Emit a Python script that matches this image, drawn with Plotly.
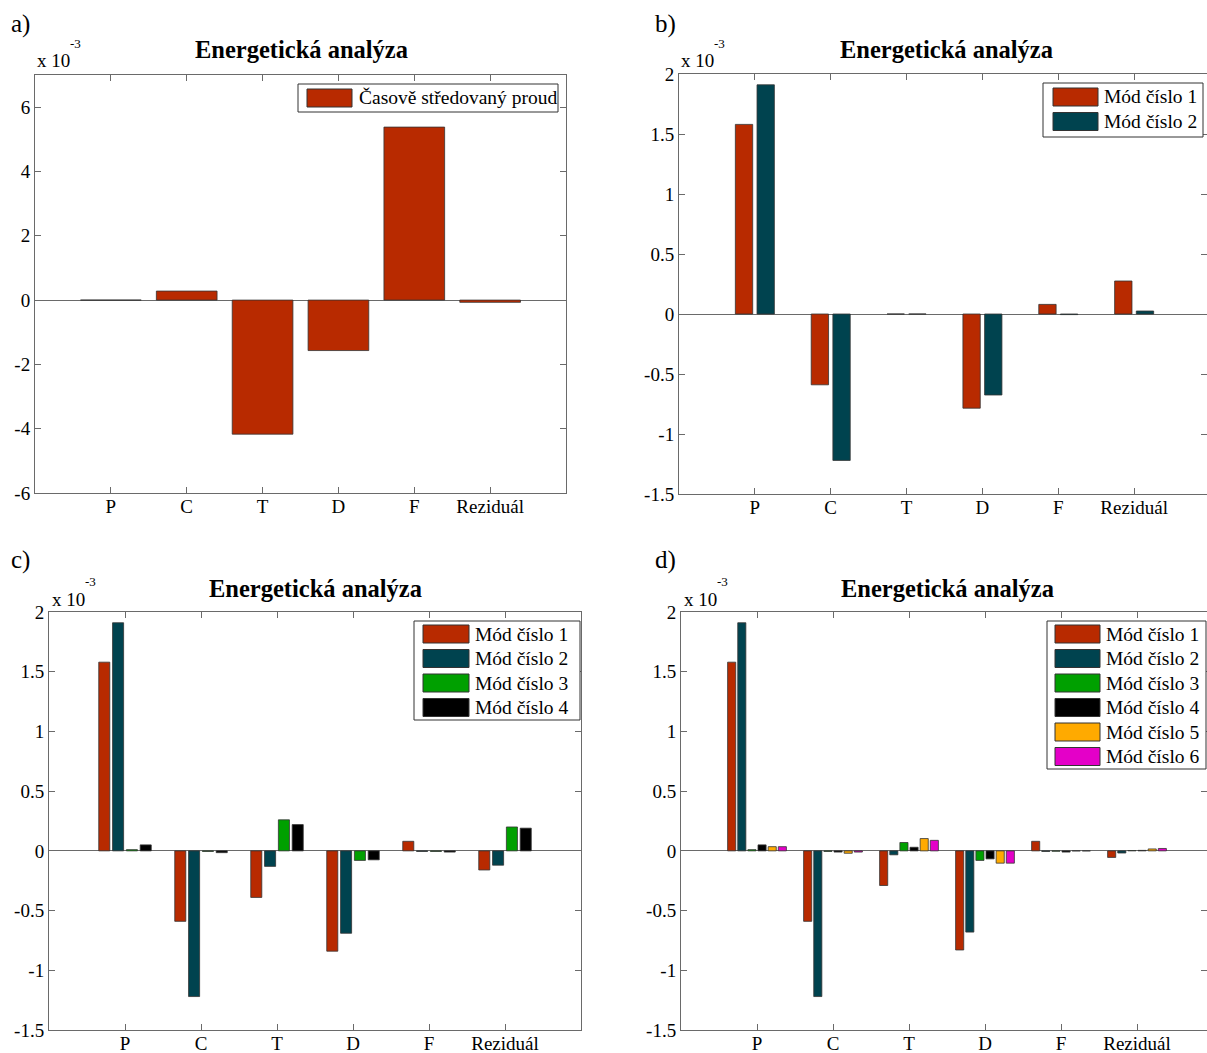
import plotly.graph_objects as go

W, H = 1207, 1053

# ---------------- data (values in units of 10^-3) ----------------
categories = ["P", "C", "T", "D", "F", "Reziduál"]

ytick_vals_a = [-6, -4, -2, 0, 2, 4, 6]
ytick_text_a = ["-6", "-4", "-2", "0", "2", "4", "6"]
ytick_vals_bcd = [-1.5, -1, -0.5, 0, 0.5, 1, 1.5, 2]
ytick_text_bcd = ["-1.5", "-1", "-0.5", "0", "0.5", "1", "1.5", "2"]

# a) time-averaged flow
mean_flow = [0.0, 0.28, -4.17, -1.57, 5.38, -0.07]

# b) two modes
b_mode1 = [1.58, -0.59, 0.0, -0.785, 0.08, 0.275]
b_mode2 = [1.91, -1.22, 0.0, -0.675, -0.005, 0.025]

# c) four modes
c_mode1 = [1.58, -0.59, -0.39, -0.84, 0.08, -0.16]
c_mode2 = [1.91, -1.22, -0.13, -0.69, -0.005, -0.12]
c_mode3 = [0.01, -0.005, 0.26, -0.08, -0.005, 0.20]
c_mode4 = [0.05, -0.015, 0.22, -0.075, -0.01, 0.19]

# d) six modes
d_mode1 = [1.58, -0.59, -0.29, -0.83, 0.08, -0.055]
d_mode2 = [1.91, -1.22, -0.033, -0.68, -0.005, -0.018]
d_mode3 = [0.01, -0.005, 0.07, -0.08, -0.003, 0.003]
d_mode4 = [0.05, -0.01, 0.03, -0.067, -0.01, 0.004]
d_mode5 = [0.035, -0.02, 0.103, -0.103, 0.0, 0.016]
d_mode6 = [0.035, -0.01, 0.088, -0.103, 0.0, 0.02]

name_mean = "Časově středovaný proud"
mode_names = ["Mód číslo 1", "Mód číslo 2", "Mód číslo 3",
              "Mód číslo 4", "Mód číslo 5", "Mód číslo 6"]
title_text = "Energetická analýza"

# ---------------- styles ----------------
colors = ["#B82A00", "#00434F", "#00A000", "#000000", "#FFAA00", "#E400C8"]
SERIF = "Liberation Serif, Times New Roman, serif"
AXC = "#6a6a6a"


def fx(x):
    return x / W


def fy(y):
    return 1 - y / H


panels = [
    dict(label="a)", series=[mean_flow], names=[name_mean],
         box=(35, 75, 566, 493), full_right=566, yr=[-6, 7],
         yt=(ytick_vals_a, ytick_text_a), title_x=301, title_y=50,
         label_xy=(9, 24), exp_xy=(35, 61),
         leg_box=(298, 84, 558, 112), sw_x=(307, 352), txt_x=357, rows0=98),
    dict(label="b)", series=[b_mode1, b_mode2], names=mode_names[:2],
         box=(679, 74, 1207, 494), full_right=1210, yr=[-1.5, 2],
         yt=(ytick_vals_bcd, ytick_text_bcd), title_x=946, title_y=50,
         label_xy=(653, 24), exp_xy=(679, 61),
         leg_box=(1043, 83, 1203, 137), sw_x=(1053, 1098), txt_x=1102, rows0=97),
    dict(label="c)", series=[c_mode1, c_mode2, c_mode3, c_mode4], names=mode_names[:4],
         box=(49, 612, 581, 1030), full_right=581, yr=[-1.5, 2],
         yt=(ytick_vals_bcd, ytick_text_bcd), title_x=316, title_y=588,
         label_xy=(9, 560), exp_xy=(50, 599),
         leg_box=(414, 621, 580, 720), sw_x=(423, 469), txt_x=473, rows0=634),
    dict(label="d)", series=[d_mode1, d_mode2, d_mode3, d_mode4, d_mode5, d_mode6],
         names=mode_names[:6],
         box=(681, 612, 1207, 1030), full_right=1213, yr=[-1.5, 2],
         yt=(ytick_vals_bcd, ytick_text_bcd), title_x=947, title_y=588,
         label_xy=(653, 560), exp_xy=(682, 599),
         leg_box=(1047, 621, 1206, 769), sw_x=(1055, 1100), txt_x=1104, rows0=634),
]

fig = go.Figure()
layout = dict(
    width=W, height=H, margin=dict(l=0, r=0, t=0, b=0, autoexpand=False),
    paper_bgcolor="white", plot_bgcolor="white",
    barmode="overlay", showlegend=False,
    font=dict(family=SERIF, size=19, color="black"),
)
annotations = []
shapes = []
xpos = list(range(1, len(categories) + 1))
ROW_DY = 24.5

for i, p in enumerate(panels):
    suf = "" if i == 0 else str(i + 1)
    xa, ya = "x" + suf, "y" + suf
    n = len(p["series"])
    if n == 1:
        gw = 0.8
        slot = 0.8
        bw = 0.8
    else:
        gw = min(0.8, n / (n + 1.5))
        slot = gw / n
        bw = slot * 0.8
    for k, (vals, nm) in enumerate(zip(p["series"], p["names"])):
        center = -gw / 2 + slot * (k + 0.5)
        fig.add_trace(go.Bar(
            x=xpos, y=vals, name=nm, xaxis=xa, yaxis=ya,
            width=bw, offset=center - bw / 2,
            marker=dict(color=colors[k], line=dict(color="#333333", width=0.8)),
        ))
    l, t, r, b = p["box"]
    xr_right = 7 * (r - l) / (p["full_right"] - l)
    layout["xaxis" + suf] = dict(
        domain=[fx(l), fx(r)], anchor=ya, range=[0, xr_right],
        tickvals=xpos, ticktext=categories, showgrid=False, zeroline=False,
        showline=True, linecolor=AXC, linewidth=1, mirror="ticks",
        ticks="inside", ticklen=6, tickcolor=AXC, automargin=False,
        ticklabelstandoff=-4,
        tickfont=dict(family=SERIF, size=19, color="black"),
    )
    layout["yaxis" + suf] = dict(
        domain=[fy(b), fy(t)], anchor=xa, range=p["yr"],
        tickvals=p["yt"][0], ticktext=p["yt"][1], showgrid=False,
        zeroline=True, zerolinecolor=AXC, zerolinewidth=1,
        showline=True, linecolor=AXC, linewidth=1, mirror="ticks",
        ticks="inside", ticklen=6, tickcolor=AXC, automargin=False,
        tickfont=dict(family=SERIF, size=19, color="black"),
    )
    # title
    annotations.append(dict(
        text="<b>" + title_text + "</b>", xref="paper", yref="paper",
        x=fx(p["title_x"]), y=fy(p["title_y"]), xanchor="center", yanchor="middle",
        showarrow=False, font=dict(family=SERIF, size=24.5, color="black")))
    # panel label
    annotations.append(dict(
        text=p["label"], xref="paper", yref="paper",
        x=fx(p["label_xy"][0]), y=fy(p["label_xy"][1]), xanchor="left", yanchor="middle",
        showarrow=False, font=dict(family=SERIF, size=25, color="black")))
    # exponent
    ex, ey = p["exp_xy"]
    annotations.append(dict(
        text="x 10", xref="paper", yref="paper",
        x=fx(ex), y=fy(ey), xanchor="left", yanchor="middle",
        showarrow=False, font=dict(family=SERIF, size=19, color="black")))
    annotations.append(dict(
        text="-3", xref="paper", yref="paper",
        x=fx(ex + 33), y=fy(ey - 18), xanchor="left", yanchor="middle",
        showarrow=False, font=dict(family=SERIF, size=13, color="black")))
    # legend
    bl, bt, br, bb = p["leg_box"]
    shapes.append(dict(type="rect", xref="paper", yref="paper",
                       x0=fx(bl), x1=fx(br), y0=fy(bb), y1=fy(bt),
                       line=dict(color="#333333", width=1), fillcolor="white",
                       layer="above"))
    for k, nm in enumerate(p["names"]):
        cy = p["rows0"] + ROW_DY * k
        shapes.append(dict(type="rect", xref="paper", yref="paper",
                           x0=fx(p["sw_x"][0]), x1=fx(p["sw_x"][1]),
                           y0=fy(cy + 9), y1=fy(cy - 9),
                           line=dict(color="#333333", width=1), fillcolor=colors[k],
                           layer="above"))
        annotations.append(dict(
            text=nm, xref="paper", yref="paper",
            x=fx(p["txt_x"]), y=fy(cy), xanchor="left", yanchor="middle",
            showarrow=False, font=dict(family=SERIF, size=19.5, color="black")))

layout["annotations"] = annotations
layout["shapes"] = shapes
fig.update_layout(**layout)
fig.write_html("out.html",
               config={"displayModeBar": False},
               post_script="document.body.style.margin='0px';document.body.style.overflow='hidden';")
